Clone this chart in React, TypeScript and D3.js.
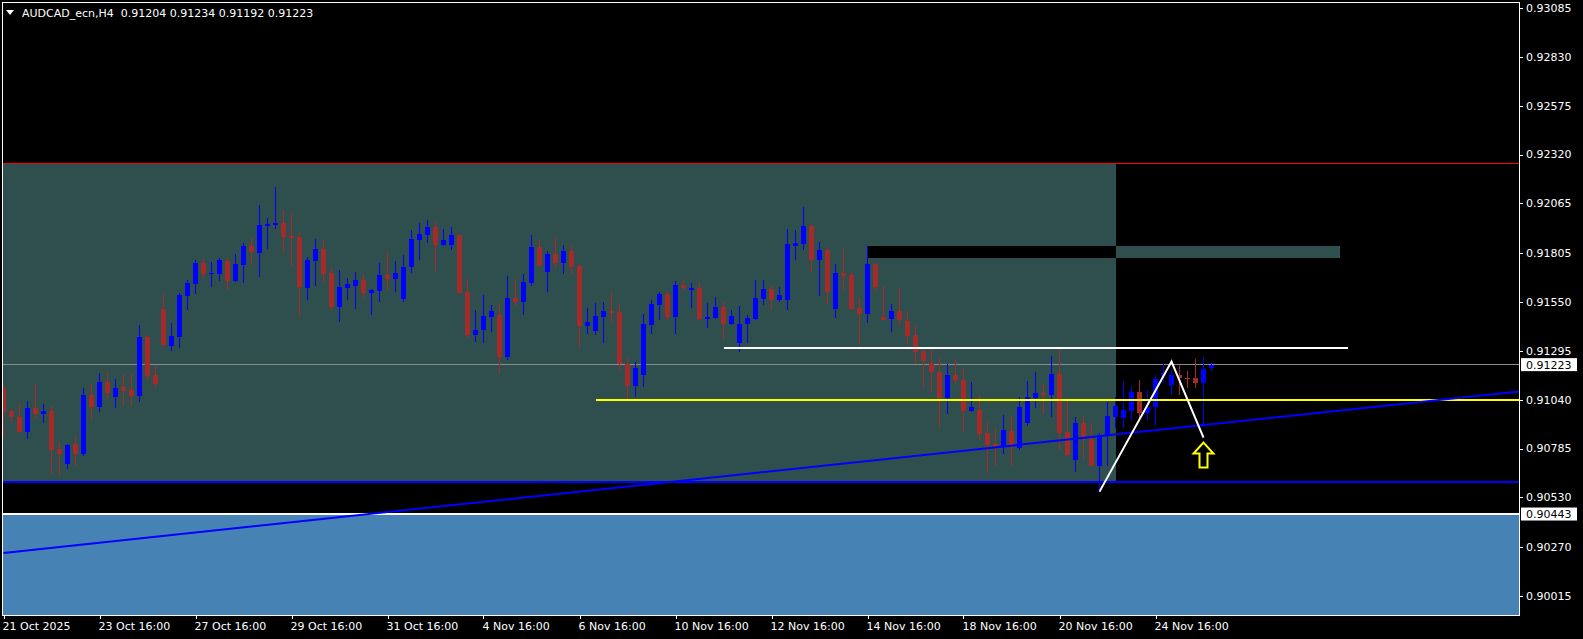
import React from "react";
import * as d3 from "d3";

// AUDCAD_ecn H4 bars, 21 Oct 2025 .. 25 Nov 2025
const opens = [
  0.91103, 0.90981, 0.9095, 0.90873, 0.90998, 0.90967, 0.90981, 0.90783, 0.90706, 0.9081,
  0.90758, 0.91064, 0.91002, 0.91132, 0.91054, 0.91105, 0.91092, 0.91061, 0.91367, 0.91169,
  0.91513, 0.91322, 0.91367, 0.91583, 0.91646, 0.91754, 0.91698, 0.91698, 0.91764, 0.9166,
  0.91743, 0.91844, 0.91806, 0.91948, 0.91952, 0.91962, 0.91896, 0.91889, 0.91625, 0.91764,
  0.91827, 0.91701, 0.91524, 0.91625, 0.91635, 0.91667, 0.91597, 0.91607, 0.91691, 0.9167,
  0.91566, 0.91733, 0.91875, 0.919, 0.91941, 0.91847, 0.91847, 0.919, 0.91604, 0.91378,
  0.91406, 0.91472, 0.91482, 0.91263, 0.91573, 0.91552, 0.91649, 0.91837, 0.91708, 0.91802,
  0.91754, 0.91816, 0.9174, 0.91426, 0.91399, 0.91472, 0.91503, 0.91499, 0.91228, 0.91113,
  0.91169, 0.9143, 0.91534, 0.91593, 0.91472, 0.91639, 0.91614, 0.91625, 0.91461, 0.91468,
  0.91524, 0.91437, 0.91336, 0.91433, 0.91461, 0.91566, 0.91618, 0.91562, 0.91562, 0.91844,
  0.91854, 0.91948, 0.91771, 0.91823, 0.91513, 0.91701, 0.91691, 0.9152, 0.91489, 0.9175,
  0.91472, 0.91461, 0.91503, 0.91451, 0.91378, 0.91294, 0.91232, 0.91186, 0.91051, 0.91169,
  0.91145, 0.90981, 0.90988, 0.90866, 0.9081, 0.90797, 0.90877, 0.9079, 0.90918, 0.91047,
  0.91075, 0.91064, 0.91176, 0.90873, 0.90727, 0.90918, 0.90835, 0.90692, 0.90849, 0.9095,
  0.90946, 0.90983, 0.9108, 0.90971, 0.91002, 0.91165, 0.91115, 0.91167, 0.91155, 0.91151,
  0.91127, 0.91204,
];
const highs = [
  0.9111, 0.90991, 0.91023, 0.91033, 0.91125, 0.91018, 0.91005, 0.90821, 0.9081, 0.90856,
  0.91099, 0.91127, 0.91179, 0.9119, 0.91148, 0.91176, 0.91176, 0.9143, 0.91374, 0.91218,
  0.91597, 0.9144, 0.91597, 0.91663, 0.91767, 0.91778, 0.91757, 0.91778, 0.91781, 0.91802,
  0.91858, 0.91882, 0.92056, 0.91987, 0.9215, 0.92028, 0.92015, 0.91917, 0.91785, 0.91879,
  0.91868, 0.91733, 0.91719, 0.91677, 0.91708, 0.91694, 0.91618, 0.91754, 0.91813, 0.91764,
  0.91795, 0.91928, 0.91962, 0.9198, 0.91973, 0.91931, 0.91941, 0.91907, 0.9167, 0.9151,
  0.91586, 0.91534, 0.91545, 0.91687, 0.9167, 0.91698, 0.919, 0.91875, 0.91816, 0.91889,
  0.91847, 0.91847, 0.91747, 0.9152, 0.91545, 0.91552, 0.91604, 0.91545, 0.91263, 0.91238,
  0.91486, 0.91562, 0.91604, 0.91607, 0.9166, 0.9167, 0.91649, 0.91656, 0.91545, 0.91576,
  0.91548, 0.91506, 0.91531, 0.91482, 0.91667, 0.91667, 0.91632, 0.91628, 0.91931, 0.91928,
  0.92046, 0.91959, 0.91865, 0.91837, 0.91747, 0.91827, 0.91712, 0.91573, 0.91841, 0.91754,
  0.91635, 0.91538, 0.91628, 0.91503, 0.9143, 0.91305, 0.91305, 0.91263, 0.91228, 0.91252,
  0.91204, 0.91134, 0.91064, 0.90929, 0.90894, 0.9096, 0.90957, 0.91054, 0.91138, 0.91183,
  0.91124, 0.9127, 0.91305, 0.91037, 0.9095, 0.90957, 0.90918, 0.90866, 0.9103, 0.91054,
  0.91138, 0.9111, 0.91145, 0.91092, 0.91169, 0.91225, 0.91195, 0.91219, 0.9119, 0.91252,
  0.91263, 0.91234,
];
const lows = [
  0.90847, 0.90925, 0.90868, 0.90837, 0.90946, 0.9092, 0.90654, 0.90643, 0.90678, 0.90696,
  0.90748, 0.90936, 0.90977, 0.91044, 0.90998, 0.91009, 0.91005, 0.9103, 0.91141, 0.91103,
  0.91315, 0.91294, 0.91312, 0.9151, 0.91593, 0.91677, 0.91628, 0.9166, 0.91614, 0.91653,
  0.91649, 0.91743, 0.9168, 0.91827, 0.91931, 0.91806, 0.91736, 0.91472, 0.91562, 0.91635,
  0.91649, 0.9151, 0.91447, 0.91562, 0.91513, 0.91566, 0.91482, 0.91552, 0.91614, 0.91604,
  0.91552, 0.91701, 0.91771, 0.91858, 0.91712, 0.91844, 0.91823, 0.9159, 0.91364, 0.91343,
  0.91336, 0.91395, 0.91176, 0.91249, 0.91531, 0.91482, 0.91635, 0.91736, 0.91604, 0.91729,
  0.91698, 0.91694, 0.91312, 0.91385, 0.91378, 0.91336, 0.9144, 0.9119, 0.9104, 0.91054,
  0.91106, 0.91385, 0.91458, 0.91451, 0.91385, 0.91611, 0.9152, 0.91455, 0.91416, 0.91461,
  0.91353, 0.9143, 0.91291, 0.91336, 0.91454, 0.91534, 0.9151, 0.91552, 0.9151, 0.91771,
  0.91823, 0.91701, 0.91583, 0.91541, 0.91468, 0.91607, 0.91506, 0.91325, 0.9144, 0.91607,
  0.91454, 0.91395, 0.9143, 0.91325, 0.91225, 0.91099, 0.91075, 0.90894, 0.90967, 0.91124,
  0.9087, 0.90977, 0.90831, 0.90657, 0.90696, 0.90758, 0.90696, 0.90776, 0.90904, 0.90998,
  0.90967, 0.9095, 0.90776, 0.90748, 0.90664, 0.90723, 0.90692, 0.9056, 0.90692, 0.90894,
  0.90894, 0.90929, 0.90929, 0.90932, 0.90901, 0.91127, 0.91064, 0.91064, 0.91103, 0.91103,
  0.90899, 0.91192,
];
const closes = [
  0.90977, 0.90951, 0.90873, 0.90998, 0.90967, 0.90981, 0.90779, 0.90758, 0.90803, 0.90758,
  0.91064, 0.91002, 0.91132, 0.91075, 0.91101, 0.91085, 0.91061, 0.91367, 0.91165, 0.91124,
  0.91325, 0.91374, 0.91586, 0.91649, 0.91754, 0.91698, 0.91701, 0.91771, 0.9166, 0.9175,
  0.91844, 0.91813, 0.91952, 0.91959, 0.91962, 0.91889, 0.91886, 0.91628, 0.91771, 0.91827,
  0.91698, 0.91524, 0.91628, 0.91646, 0.91667, 0.91597, 0.91614, 0.91691, 0.9167, 0.91701,
  0.91733, 0.91879, 0.91907, 0.91941, 0.91847, 0.91875, 0.919, 0.91597, 0.91378, 0.91406,
  0.91479, 0.91503, 0.91263, 0.91573, 0.91552, 0.91656, 0.91837, 0.9174, 0.91802, 0.91754,
  0.91816, 0.91733, 0.91426, 0.91447, 0.91479, 0.91503, 0.91493, 0.91228, 0.91113, 0.91207,
  0.91437, 0.91541, 0.91593, 0.91472, 0.91639, 0.91625, 0.91625, 0.91461, 0.91472, 0.91524,
  0.91437, 0.91479, 0.91437, 0.91468, 0.91573, 0.91618, 0.91562, 0.91586, 0.91854, 0.91858,
  0.91948, 0.91771, 0.91823, 0.91604, 0.91701, 0.91687, 0.91513, 0.91489, 0.9175, 0.91628,
  0.91458, 0.91503, 0.91454, 0.91374, 0.91291, 0.91242, 0.91183, 0.91051, 0.91169, 0.91145,
  0.90981, 0.91002, 0.90863, 0.90803, 0.908, 0.90884, 0.90797, 0.91002, 0.91054, 0.91075,
  0.91064, 0.91176, 0.90866, 0.90751, 0.90918, 0.90842, 0.90696, 0.90856, 0.90957, 0.91009,
  0.90988, 0.9108, 0.90971, 0.91004, 0.91148, 0.91179, 0.91167, 0.91155, 0.9115, 0.91127,
  0.91198, 0.91223,
];

const timeTickBars = [0, 12, 24, 36, 48, 60, 72, 84, 96, 108, 120, 132, 144];
const timeTickLabels = [
  "21 Oct 2025", "23 Oct 16:00", "27 Oct 16:00", "29 Oct 16:00", "31 Oct 16:00",
  "4 Nov 16:00", "6 Nov 16:00", "10 Nov 16:00", "12 Nov 16:00", "14 Nov 16:00",
  "18 Nov 16:00", "20 Nov 16:00", "24 Nov 16:00",
];
const priceTicks = [
  0.93085, 0.9283, 0.92575, 0.9232, 0.92065, 0.91805, 0.9155,
  0.91295, 0.9104, 0.90785, 0.9053, 0.9027, 0.90015,
];

// drawn objects
const redLevel = 0.92272;
const zone = [0.92272, 0.9061]; // top, bottom
const zoneEndBar = 139;
const gapBox = [108, 167, 0.91843, 0.9178]; // fromBar, toBar, top, bottom
const supportLevel = 0.90443;
const bidPrice = 0.91223;
const yellowLevel = 0.9104;
const yellowFromBar = 74;
const whiteLevel = 0.91312;
const whiteBars = [90, 168];
const trendBars = [0, 150];
const trendPrices = [0.9024, 0.90907];
const zigzagBars = [137, 146, 150];
const zigzagPrices = [0.9056, 0.91239, 0.90842];
const arrowBar = 150;
const arrowPrice = 0.90816;

const W = 1583;
const H = 639;
const plot = { left: 2, top: 2, right: 1519, bottom: 615 };
const FONT = "DejaVu Sans";
const BULL = "#0000ff";
const BEAR = "#a52a2a";
const TEAL = "#2f4f4f";

const App: React.FC = () => {
  const x = d3.scaleLinear().domain([0, 151]).range([3.5, 1211.5]);
  const y = d3.scaleLinear().domain([0.90015, 0.93085]).range([596, 8]);
  const fmt = d3.format(".5f");
  const bars = d3.range(opens.length);

  const trend = d3.scaleLinear().domain(trendBars).range(trendPrices);
  const trendEnd = x.invert(plot.right);
  const trendLine = d3.line<number>()
    .x((b) => x(b))
    .y((b) => y(trend(b)));
  const zigzag = d3.line<number>()
    .x((b) => x(b))
    .y((_, i) => y(zigzagPrices[i]));

  const ax = x(arrowBar);
  const ay = y(arrowPrice);

  return (
    <svg width={W} height={H} style={{ position: "absolute", left: 0, top: 0, display: "block" }}>
      <defs>
        <clipPath id="plot">
          <rect x={plot.left} y={plot.top} width={plot.right - plot.left} height={plot.bottom - plot.top} />
        </clipPath>
      </defs>
      <rect width={W} height={H} fill="#000" />

      <g clipPath="url(#plot)" shapeRendering="crispEdges">
        <rect x={plot.left} y={y(supportLevel)} width={plot.right - plot.left}
          height={plot.bottom - y(supportLevel)} fill="steelblue" />
        <rect x={plot.left} y={y(zone[0])} width={x(zoneEndBar) - plot.left}
          height={y(zone[1]) - y(zone[0])} fill={TEAL} />
        <rect x={x(gapBox[0])} y={y(gapBox[2])} width={x(gapBox[1]) - x(gapBox[0])}
          height={y(gapBox[3]) - y(gapBox[2])} fill={TEAL} />
        <rect x={x(gapBox[0])} y={y(gapBox[2])} width={x(zoneEndBar) - x(gapBox[0])}
          height={y(gapBox[3]) - y(gapBox[2])} fill="#000" />

        <line x1={plot.left} x2={plot.right} y1={y(redLevel)} y2={y(redLevel)} stroke="#ff0000" />
        <line x1={plot.left} x2={plot.right} y1={y(zone[1])} y2={y(zone[1])} stroke={BULL} strokeWidth={1.5} />
        <line x1={plot.left} x2={plot.right} y1={y(supportLevel)} y2={y(supportLevel)} stroke="#fff" strokeWidth={2} />
        <line x1={plot.left} x2={plot.right} y1={y(bidPrice)} y2={y(bidPrice)} stroke="#8c8c8c" />

        {bars.map((i) => {
          const up = closes[i] > opens[i];
          const c = up ? BULL : BEAR;
          const top = y(Math.max(opens[i], closes[i]));
          const bot = y(Math.min(opens[i], closes[i]));
          return (
            <g key={i}>
              <line x1={x(i)} x2={x(i)} y1={y(highs[i])} y2={y(lows[i])} stroke={c} />
              <rect x={x(i) - 2.5} y={top} width={5} height={Math.max(1, bot - top)} fill={c} />
            </g>
          );
        })}

        <line x1={x(yellowFromBar)} x2={plot.right} y1={y(yellowLevel)} y2={y(yellowLevel)}
          stroke="#ffff00" strokeWidth={2} />
        <line x1={x(whiteBars[0])} x2={x(whiteBars[1])} y1={y(whiteLevel)} y2={y(whiteLevel)}
          stroke="#fff" strokeWidth={2} />
      </g>

      <g clipPath="url(#plot)">
        <path d={trendLine([trendBars[0], trendEnd]) ?? ""} stroke={BULL} strokeWidth={2} fill="none" />
        <path d={zigzag(zigzagBars) ?? ""} stroke="#fff" strokeWidth={2} fill="none" />
        <path
          transform={`translate(${ax},${ay})`}
          d="M0,0 L10,11 L4,11 L4,25 L-4,25 L-4,11 L-10,11 Z"
          fill="#000" stroke="#ffff00" strokeWidth={2} strokeLinejoin="miter"
        />
      </g>

      <rect x={plot.left} y={plot.top} width={plot.right - plot.left} height={plot.bottom - plot.top}
        fill="none" stroke="#fff" shapeRendering="crispEdges" />

      <g fontFamily={FONT} fontSize={11} fill="#fff">
        {priceTicks.map((p) => (
          <g key={p}>
            <line x1={plot.right} x2={plot.right + 4} y1={Math.round(y(p)) + 0.5} y2={Math.round(y(p)) + 0.5} stroke="#fff" />
            <text x={1526} y={y(p)} dy="0.36em">{fmt(p)}</text>
          </g>
        ))}
        {[bidPrice, supportLevel].map((p) => (
          <g key={p}>
            <rect x={1521} y={y(p) - 6.5} width={56} height={13} fill="#fff" />
            <text x={1526} y={y(p)} dy="0.36em" fill="#000">{fmt(p)}</text>
          </g>
        ))}
        {timeTickBars.map((b, k) => (
          <g key={b}>
            <line x1={Math.round(x(b)) + 0.5} x2={Math.round(x(b)) + 0.5} y1={plot.bottom} y2={plot.bottom + 4} stroke="#fff" />
            <text x={x(b) - 1} y={630}>{timeTickLabels[k]}</text>
          </g>
        ))}
        <path d="M6,10 L14,10 L10,15 Z" fill="#fff" />
        <text x={22} y={17} style={{ whiteSpace: "pre" }}>
          {`AUDCAD_ecn,H4  ${fmt(opens[151])} ${fmt(highs[151])} ${fmt(lows[151])} ${fmt(closes[151])}`}
        </text>
      </g>
    </svg>
  );
};

export default App;
